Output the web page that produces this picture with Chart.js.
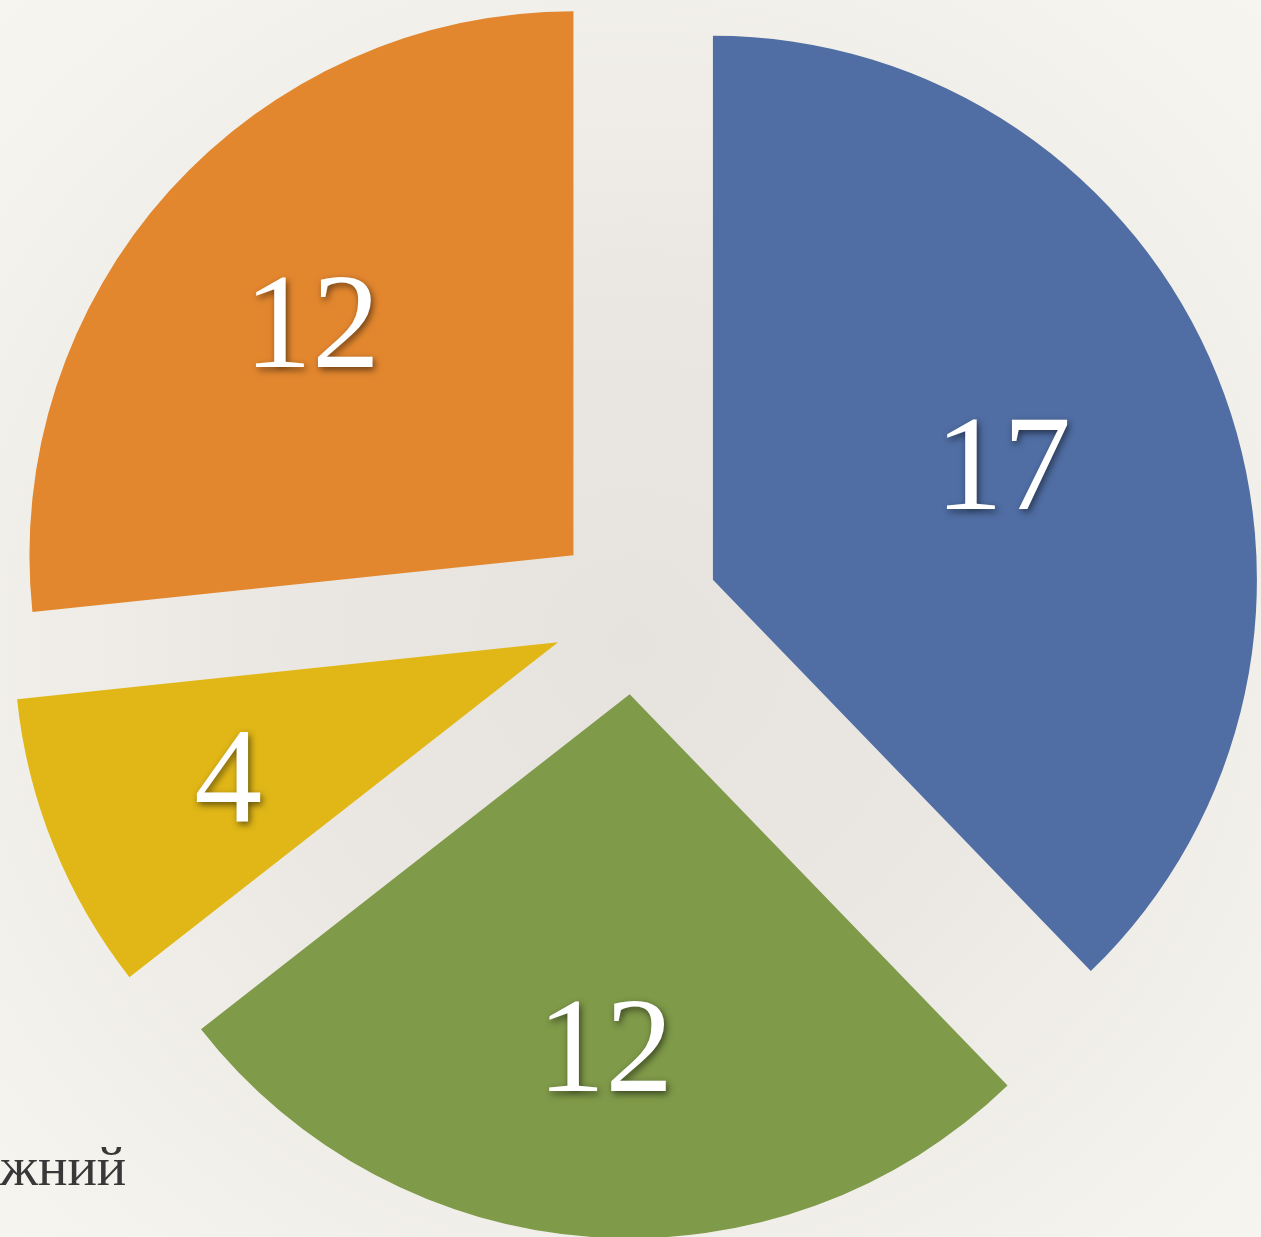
<!DOCTYPE html>
<html>
<head>
<meta charset="utf-8">
<script src="https://cdn.jsdelivr.net/npm/chart.js@4/dist/chart.umd.min.js"></script>
<style>
  html, body { margin: 0; padding: 0; }
  body {
    width: 1261px; height: 1237px; overflow: hidden; position: relative;
    background: radial-gradient(ellipse 75% 75% at 50% 52%, #e6e3de 0%, #ebe8e3 40%, #f3f1ec 75%, #f8f6f1 100%);
  }
  #wrap { position: absolute; left: 0; top: 0; width: 1261px; height: 1237px; }
  #legendText {
    position: absolute; left: 0px; top: 1135px;
    font-family: "Liberation Serif", "DejaVu Serif", serif; font-size: 55px;
    color: #383838; white-space: nowrap;
  }
</style>
</head>
<body>
<div id="wrap"><canvas id="c" width="1261" height="1237"></canvas></div>
<div id="legendText">жний</div>
<script>
// ---- data ----
const categories = ["Категорія 1", "Категорія 2", "Категорія 3", "Категорія 4"];
const values = [17, 12, 4, 12];
const sliceColors = ["#506ea4", "#7f9a49", "#e1b717", "#e3872f"];

// ---- style ----
const RADIUS = 544;
const EXPLODE = 83.5;                 // pixel shift of each slice
const labelFractions = [0.575, 0.645, 0.654, 0.647];

// keep every slice at the same radius and full angle when exploded
const fixRadiusPlugin = {
  id: 'fixRadius',
  beforeDatasetDraw(chart) {
    const meta = chart.getDatasetMeta(0);
    meta.data.forEach(arc => {
      const circ = arc.circumference;
      const fix = 1 - Math.sin(Math.min(Math.PI, circ || 0));
      const radiusOffset = EXPLODE * fix;
      arc.outerRadius = RADIUS - radiusOffset;
      const d = radiusOffset / (Math.PI * RADIUS);
      const mid = (arc.startAngle + arc.endAngle) / 2;
      arc.startAngle = mid - (circ + d) / 2;
      arc.endAngle = mid + (circ + d) / 2;
    });
  }
};

const labelPlugin = {
  id: 'sliceLabels',
  afterDatasetsDraw(chart) {
    const ctx = chart.ctx;
    const meta = chart.getDatasetMeta(0);
    const fs = 136;
    ctx.save();
    ctx.font = fs + 'px "Liberation Serif", "DejaVu Serif", serif';
    ctx.fillStyle = '#ffffff';
    ctx.textAlign = 'center';
    ctx.textBaseline = 'alphabetic';
    ctx.shadowColor = 'rgba(0,0,0,0.55)';
    ctx.shadowBlur = 7;
    ctx.shadowOffsetX = 2;
    ctx.shadowOffsetY = 3;
    meta.data.forEach((arc, i) => {
      const mid = (arc.startAngle + arc.endAngle) / 2;
      const vx = arc.x + Math.cos(mid) * EXPLODE;
      const vy = arc.y + Math.sin(mid) * EXPLODE;
      const r = RADIUS * labelFractions[i];
      const lx = vx + Math.cos(mid) * r;
      const ly = vy + Math.sin(mid) * r;
      ctx.fillText(String(values[i]), lx, ly + fs * 0.345);
    });
    ctx.restore();
  }
};

new Chart(document.getElementById('c'), {
  type: 'pie',
  data: {
    labels: categories,
    datasets: [{
      data: values,
      backgroundColor: sliceColors,
      borderWidth: 0,
      offset: EXPLODE * 4,
      hoverOffset: EXPLODE * 4,
      clip: false
    }]
  },
  options: {
    responsive: false,
    animation: false,
    radius: RADIUS,
    layout: { padding: { left: 10, right: 0, top: 0, bottom: 15 } },
    plugins: { legend: { display: false }, tooltip: { enabled: false } },
    events: []
  },
  plugins: [fixRadiusPlugin, labelPlugin]
});
</script>
</body>
</html>
